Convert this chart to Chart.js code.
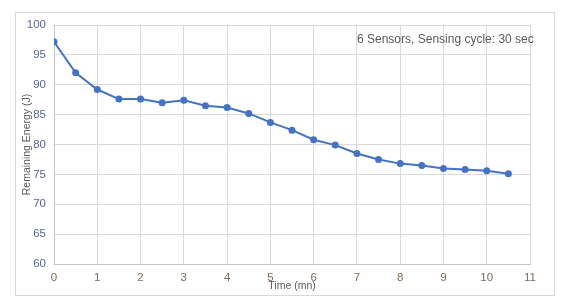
<!DOCTYPE html>
<html>
<head>
<meta charset="utf-8">
<script src="https://cdn.jsdelivr.net/npm/chart.js@4"></script>
<style>
  html, body { margin:0; padding:0; background:#fff; }
  #wrap { width:576px; height:304px; position:relative; }
</style>
</head>
<body>
<div id="wrap"><canvas id="energyChart" width="576" height="304"></canvas></div>
<script>
// time in minutes, one sample per sensing cycle (30 s)
const timeMin = [0, 0.5, 1, 1.5, 2, 2.5, 3, 3.5, 4, 4.5, 5, 5.5, 6, 6.5, 7, 7.5, 8, 8.5, 9, 9.5, 10, 10.5];
const energyJ = [97.2, 92.0, 89.2, 87.6, 87.6, 87.0, 87.4, 86.5, 86.2, 85.2, 83.7, 82.4, 80.8, 79.9, 78.5, 77.5, 76.8, 76.5, 76.0, 75.8, 75.6, 75.1];
const xTicks = [0, 1, 2, 3, 4, 5, 6, 7, 8, 9, 10, 11];
const yTicks = [60, 65, 70, 75, 80, 85, 90, 95, 100];
const note = '6 Sensors, Sensing cycle: 30 sec';

const FONT = "'Liberation Sans', Arial, sans-serif";
const GRID = '#d9d9d9';

// outer frame + annotation text
const frame = {
  id:'frame',
  beforeDraw(chart) {
    const c = chart.ctx;
    c.save();
    c.fillStyle = '#fff';
    c.fillRect(0, 0, chart.width, chart.height);
    c.strokeStyle = GRID; c.lineWidth = 1;
    c.strokeRect(15.5, 12.5, 539, 283);
    c.restore();
  },
  afterDraw(chart) {
    const c = chart.ctx;
    c.save();
    c.font = '12px ' + FONT;
    c.fillStyle = '#595959';
    c.textBaseline = 'middle';
    c.fillText(note, 357, 40);
    c.restore();
  }
};

new Chart(document.getElementById('energyChart').getContext('2d'), {
  type:'line',
  data:{
    datasets:[{
      data: timeMin.map((t,i)=>({x:t, y:energyJ[i]})),
      borderColor:'#4472C4', backgroundColor:'#4472C4',
      borderWidth:2, pointRadius:3.5, pointHoverRadius:3.5,
      pointBorderWidth:0, tension:0
    }]
  },
  options:{
    responsive:false, animation:false, devicePixelRatio:1,
    layout:{ padding:{ top:25, right:46, left:0, bottom:0 } },
    plugins:{ legend:{display:false}, tooltip:{enabled:false} },
    scales:{
      x:{
        type:'linear', min:0, max:11,
        afterBuildTicks: s => { s.ticks = xTicks.map(v=>({value:v})); },
        afterFit: s => { s.height = 40; },
        ticks:{ color:'#7d6b5a', font:{family:FONT, size:11.5}, padding:7, maxRotation:0 },
        grid:{ color:GRID, drawTicks:false },
        border:{ color:'#c6c6c6' },
        title:{ display:true, text:'Time (mn)', color:'#595959', font:{family:FONT, size:10.5}, padding:{top:0, bottom:12} }
      },
      y:{
        min:60, max:100,
        afterBuildTicks: s => { s.ticks = yTicks.map(v=>({value:v})); },
        afterFit: s => { s.width = 54; },
        ticks:{ color:'#5a6787', font:{family:FONT, size:11.5}, padding:8 },
        grid:{ color:GRID, drawTicks:false },
        border:{ color:'#c6c6c6' },
        title:{ display:true, text:'Remaining Energy (J)', color:'#595959', font:{family:FONT, size:10.5}, padding:{top:21, bottom:0} }
      }
    }
  },
  plugins:[frame]
});
</script>
</body>
</html>
